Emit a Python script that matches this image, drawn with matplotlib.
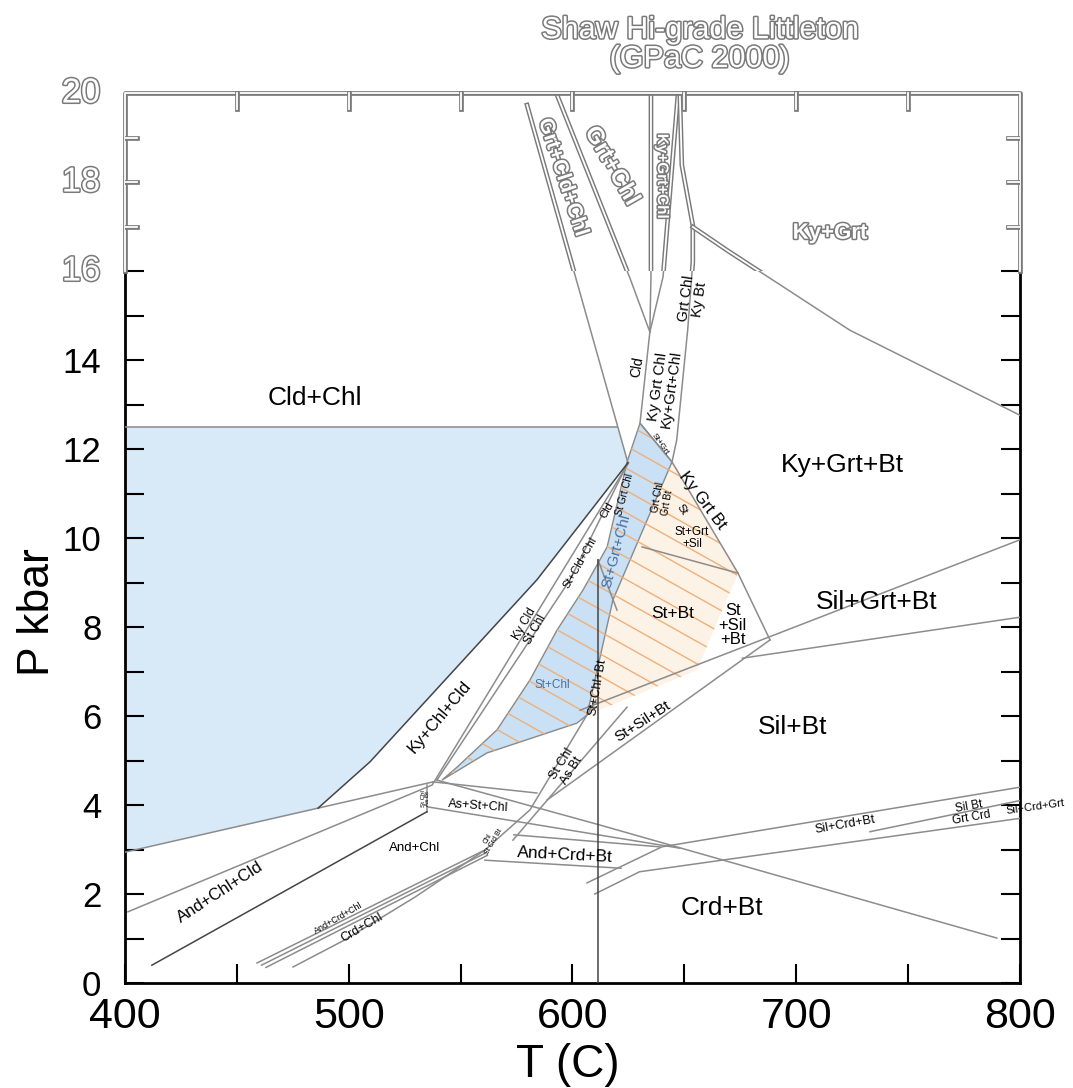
import matplotlib
matplotlib.use("Agg")
import matplotlib.pyplot as plt
import matplotlib.patheffects as pe
from matplotlib.patches import Polygon, Rectangle
import numpy as np

plt.rcParams['font.family'] = ['Liberation Sans', 'DejaVu Sans']

# ---- fields (T in C, P in kbar) ----
cldchl_T = [400, 620, 624.8, 584.1, 509.5, 486.3, 400]
cldchl_P = [12.5, 12.5, 11.69, 9.06, 4.97, 3.93, 2.94]

stchl_T = [630.2, 624.4, 615.5, 604.7, 593.1, 581.0, 566.3, 548.4, 541.7,
           561.8, 602.0, 606.5, 618.1, 644.5]
stchl_P = [12.58, 11.71, 9.80, 8.83, 7.93, 6.81, 5.69, 4.85, 4.56,
           5.17, 5.84, 6.02, 8.61, 11.71]

stbt_T = [644.5, 674.0, 655.6, 606.5, 618.1]
stbt_P = [11.71, 9.21, 7.03, 6.02, 8.61]

# ---- reaction lines ----
cld_T = [579.7, 624.8];                 cld_P = [19.73, 11.69]
l2_T = [593.1, 625.7, 634.6];           l2_P = [19.96, 15.84, 14.63]
v_T = [635.1, 635.1, 634.6];            v_P = [19.96, 15.87, 14.63]
m_T = [647.2, 640.5, 634.6];            m_P = [20.0, 15.87, 14.63]
kgc_T = [634.6, 630.2];                 kgc_P = [14.63, 12.58]
r_T = [648.0, 648.9, 653.8, 653.8, 651.5, 646.6, 644.5]
r_P = [19.96, 18.38, 17.03, 16.2, 14.67, 12.2, 11.71]
kygrt_T = [653.8, 669.0, 724.0, 800.0]; kygrt_P = [16.99, 16.47, 14.67, 12.76]

li_T = [486.3, 509.5, 584.1, 624.8];    li_P = [3.93, 4.97, 9.06, 11.69]
lii_T = [401.3, 537.3, 593.1, 625.1];   lii_P = [1.6, 4.45, 9.06, 11.69]
liii_T = [539.4, 598.9, 624.8];         liii_P = [4.56, 9.06, 11.69]
blow_T = [400, 486.3, 537.7];           blow_P = [2.94, 3.93, 4.52]
assc_up_T = [537.7, 584.1];             assc_up_P = [4.52, 4.27]
assc_lo_T = [535.0, 648.0];             assc_lo_P = [3.96, 3.03]
ll_T = [539.4, 612.3, 789.7];           ll_P = [4.56, 3.55, 1.01]
andchl_T = [412, 535];                  andchl_P = [0.4, 3.85]
jct_T = [535, 535];                     jct_P = [3.85, 4.45]
chl1_T = [459.0, 560.9, 581.0, 610.5];  chl1_P = [0.45, 2.99, 3.89, 6.36]
chl2_T = [461.0, 561.5];                chl2_P = [0.40, 2.93]
chl3_T = [463.0, 562.0];                chl3_P = [0.35, 2.87]
crdchl_T = [475.1, 498.3, 529.6, 560.9]; crdchl_P = [0.36, 0.97, 1.93, 2.99]
sa2_T = [573.4, 624.4];                 sa2_P = [3.21, 6.2]
acb_up_T = [573.8, 639.1];              acb_up_P = [3.33, 3.06]
acb_lo_T = [560.9, 621.7];              acb_lo_P = [2.76, 2.58]
vert_T = [611.4, 611.4];                vert_P = [9.51, 0]
tri_T = [611.4, 619.9];                 tri_P = [9.51, 8.38]
kysil_T = [603.4, 800];                 kysil_P = [6.13, 9.96]
ssb_T = [588.6, 688.3];                 ssb_P = [4.11, 7.71]
stout_T = [674.0, 688.3];               stout_P = [9.21, 7.71]
grtin_T = [676.0, 800];                 grtin_P = [7.3, 8.22]
sgs_T = [631.1, 674.0];                 sgs_P = [9.80, 9.21]
kgb_T = [630.2, 644.5, 674.0];          kgb_P = [12.58, 11.71, 9.21]
s1_T = [606.5, 640, 800];               s1_P = [2.25, 3.06, 4.4]
s2_T = [610, 630, 800];                 s2_P = [2.0, 2.5, 3.7]
s3_T = [733, 800];                      s3_P = [3.4, 4.1]
cldtop_T = [400, 620];                  cldtop_P = [12.5, 12.5]

gray_lines = [(cld_T, cld_P), (l2_T, l2_P), (v_T, v_P), (m_T, m_P), (kgc_T, kgc_P),
              (r_T, r_P), (kygrt_T, kygrt_P), (lii_T, lii_P), (liii_T, liii_P),
              (blow_T, blow_P), (assc_up_T, assc_up_P), (assc_lo_T, assc_lo_P),
              (ll_T, ll_P), (jct_T, jct_P), (chl1_T, chl1_P), (chl2_T, chl2_P),
              (chl3_T, chl3_P), (crdchl_T, crdchl_P), (sa2_T, sa2_P),
              (acb_up_T, acb_up_P), (acb_lo_T, acb_lo_P), (tri_T, tri_P),
              (kysil_T, kysil_P), (ssb_T, ssb_P), (stout_T, stout_P),
              (grtin_T, grtin_P), (sgs_T, sgs_P), (kgb_T, kgb_P),
              (s1_T, s1_P), (s2_T, s2_P), (s3_T, s3_P), (cldtop_T, cldtop_P)]
dark_lines = [(li_T, li_P), (andchl_T, andchl_P), (vert_T, vert_P)]

blue_txt = '#4a6fa0'
labels = [
    ("Cld+Chl", 484.9, 13.15, 19, 0, 'k'),
    ("Ky+Grt+Bt", 720.9, 11.64, 19, 0, 'k'),
    ("Sil+Grt+Bt", 736.0, 8.56, 19, 0, 'k'),
    ("Sil+Bt", 698.5, 5.75, 19, 0, 'k'),
    ("Crd+Bt", 666.8, 1.69, 19, 0, 'k'),
    ("Ky+Chl+Cld", 540.8, 5.98, 12, 50, 'k'),
    ("And+Chl+Cld", 442.5, 2.05, 12, 33, 'k'),
    ("And+Chl", 529.6, 3.03, 9.5, 0, 'k'),
    ("Crd+Chl", 506.0, 1.24, 9, 30, 'k'),
    ("And+Crd+Chl", 495.2, 1.46, 6.5, 30, 'k'),
    ("And+Crd+Bt", 596.6, 2.88, 12.5, -3, 'k'),
    ("As+St+Chl", 558.0, 3.98, 9, -4, 'k'),
    ("St+Sil+Bt", 631.5, 5.87, 11, 33, 'k'),
    ("Sil+Crd+Bt", 721.8, 3.55, 9, 10, 'k'),
    ("Sil Bt\nGrt Crd", 777.7, 3.84, 8.5, 10, 'k'),
    ("St+Bt", 645.0, 8.3, 12.5, 0, 'k'),
    ("St\n+Sil\n+Bt", 671.7, 8.04, 12, 0, 'k'),
    ("Ky Grt Bt", 658.3, 10.85, 12, -53, 'k'),
    ("St+Grt\n+Sil", 653.4, 10.0, 8.5, 0, 'k'),
    ("St+Grt+Chl", 619.5, 9.7, 11, 75, blue_txt),
    ("St Grt Chl", 623.5, 10.97, 7, 75, 'k'),
    ("Grt Chl", 638.2, 10.92, 7, 80, 'k'),
    ("Grt Bt", 642.2, 10.79, 7, 80, 'k'),
    ("St", 649.0, 10.63, 8, -55, 'k'),
    ("St+Grt", 639.0, 12.1, 6, -55, 'k'),
    ("St+Chl", 591.0, 6.7, 8.5, 0, blue_txt),
    ("Cld", 615.4, 10.63, 8, 60, 'k'),
    ("St+Cld+Chl", 603.4, 9.44, 8, 60, 'k'),
    ("Ky Cld\nSt Chl", 581.0, 8.0, 8.5, 60, 'k'),
    ("St+Chl+Bt", 611.0, 6.65, 9, 80, 'k'),
    ("St Chl\nAs Bt", 597.5, 4.85, 9, 58, 'k'),
    ("St Chl\nAs Bt", 534.3, 4.15, 4.5, 90, 'k'),
    ("Chl\nSt Crd Bt", 563.5, 3.2, 5, 60, 'k'),
    ("Cld", 628.8, 13.84, 10, 80, 'k'),
    ("Ky Grt Chl\nKy+Grt+Chl", 641.0, 13.37, 10.7, 82, 'k'),
    ("Grt Chl\nKy Bt", 653.9, 15.37, 10.5, 82, 'k'),
]
ghost_labels = [
    ("Grt+Cld+Chl", 595.8, 18.1, 15, -72),
    ("Grt+Chl", 617.7, 18.36, 17, -60),
    ("Ky+Grt+Chl", 640.0, 18.13, 11, -90),
    ("Ky+Grt", 715.1, 16.85, 16, 0),
]

fig = plt.figure(figsize=(10.73, 10.88), dpi=100)
ax = fig.add_axes([0.1165, 0.0965, 0.834, 0.818])
ax.set_xlim(400, 800)
ax.set_ylim(0, 20)

low = Rectangle((400, 0), 400, 16, transform=ax.transData)
high = Rectangle((400, 16), 400, 4, transform=ax.transData)

ax.add_patch(Polygon(np.column_stack([cldchl_T, cldchl_P]), closed=True,
                     facecolor='#d8e9f7', edgecolor='none', zorder=1))
ax.add_patch(Polygon(np.column_stack([stbt_T, stbt_P]), closed=True,
                     facecolor='#fdf2e6', edgecolor='none', zorder=1))
band = Polygon(np.column_stack([stchl_T, stchl_P]), closed=True,
               facecolor='#c9e0f5', edgecolor='#8a8a8a', lw=1, zorder=1.5)
ax.add_patch(band)

# orange hatching over the St fields
hatch_region = Polygon(np.column_stack([stbt_T, stbt_P]), closed=True, transform=ax.transData)
hT = np.array([520, 720])
for c in np.arange(3.0, 16.0, 0.5):
    for clip in (band, hatch_region):
        ln, = ax.plot(hT, c - 0.0282 * (hT - 520), color='#efb07a', lw=1.0, zorder=2)
        ln.set_clip_path(clip)

for T, P in gray_lines:
    ln, = ax.plot(T, P, color='#8c8c8c', lw=1.1, zorder=3)
    ln.set_clip_path(low)
for T, P in dark_lines:
    ln, = ax.plot(T, P, color='#444444', lw=1.1, zorder=3)
    ln.set_clip_path(low)

ghost_line = [pe.Stroke(linewidth=3.4, foreground='#7a7a7a'),
              pe.Stroke(linewidth=1.3, foreground='white')]
ghost_text = [pe.withStroke(linewidth=2.2, foreground='#7a7a7a')]
for T, P in [(cld_T, cld_P), (l2_T, l2_P), (v_T, v_P), (m_T, m_P), (r_T, r_P), (kygrt_T, kygrt_P)]:
    ln, = ax.plot(T, P, color='white', lw=1.3, path_effects=ghost_line, zorder=3)
    ln.set_clip_path(high)

for txt, T, P, s, rot, col in labels:
    ax.text(T, P, txt, fontsize=s, rotation=rot, color=col, ha='center', va='center',
            linespacing=0.95, rotation_mode='anchor', zorder=5)
ax.text(807.0, 3.96, "Sil+Crd+Grt", fontsize=8, rotation=8, ha='center', va='center',
        clip_on=False, zorder=5)
for txt, T, P, s, rot in ghost_labels:
    ax.text(T, P, txt, fontsize=s, rotation=rot, color='white', ha='center', va='center',
            fontweight='bold', path_effects=ghost_text, rotation_mode='anchor', zorder=5)

# axes frame: normal below 16 kbar, ghosted above
for side in ('left', 'right'):
    ax.spines[side].set_bounds(0, 16)
    ax.spines[side].set_linewidth(2)
ax.spines['bottom'].set_linewidth(2)
ax.spines['top'].set_visible(False)
ax.plot([400, 400, 800, 800], [16, 20, 20, 16], color='white', lw=1.3,
        path_effects=ghost_line, clip_on=False, zorder=6)
for t in [450, 500, 550, 600, 650, 700, 750]:
    ax.plot([t, t], [20, 19.65], color='white', lw=1.3, path_effects=ghost_line,
            clip_on=False, zorder=6)
for p in [17, 18, 19]:
    ax.plot([400, 405.5], [p, p], color='white', lw=1.3, path_effects=ghost_line, zorder=6)
    ax.plot([794.5, 800], [p, p], color='white', lw=1.3, path_effects=ghost_line, zorder=6)

ax.set_xticks([400, 500, 600, 700, 800])
ax.set_xticks([450, 550, 650, 750], minor=True)
ax.set_yticks([0, 2, 4, 6, 8, 10, 12, 14])
ax.set_yticks([1, 3, 5, 7, 9, 11, 13, 15, 16], minor=True)
ax.tick_params(which='both', direction='in', length=14, width=1.5, top=False, right=True)
ax.tick_params(axis='x', labelsize=31, pad=10)
ax.tick_params(axis='y', labelsize=25, pad=17)
for p in [16, 18, 20]:
    ax.text(389, p, str(p), fontsize=25, ha='right', va='center', color='white',
            path_effects=ghost_text, clip_on=False)

fig.text(0.035, 0.4375, "P kbar", fontsize=32, rotation=90, ha='center', va='center')
fig.text(0.529, 0.021, "T (C)", fontsize=33, ha='center', va='center')
fig.text(0.652, 0.986, "Shaw Hi-grade Littleton\n(GPaC 2000)", fontsize=22,
         ha='center', va='top', linespacing=0.95, color='white', path_effects=ghost_text)

fig.savefig("out.png", dpi=100)
